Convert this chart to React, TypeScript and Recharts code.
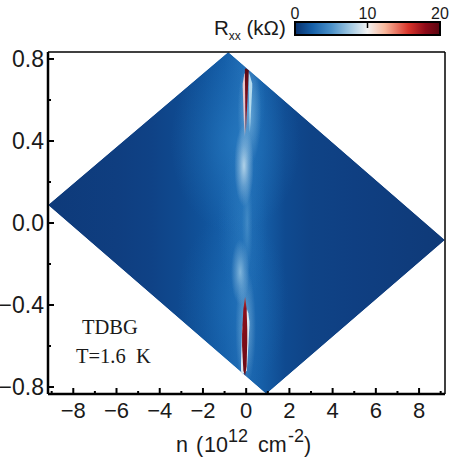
import React from "react";
import { ComposedChart, Area, Bar, XAxis, YAxis } from "recharts";

const xMajor = [-8, -6, -4, -2, 0, 2, 4, 6, 8];
const xMinor = [-9, -7, -5, -3, -1, 1, 3, 5, 7, 9];
const yMajor = [-0.8, -0.4, 0, 0.4, 0.8];
const yMinor = [-0.6, -0.2, 0.2, 0.6];
const nDomain: [number, number] = [-9.17, 9.2];
const dDomain: [number, number] = [-0.834, 0.834];

// map outline: displacement field D against carrier density n
const outlineN = [-9.17, -0.83, 0.93, 9.2];
const outlineLow = [0.088, -0.673, -0.834, -0.083];
const outlineHigh = [0.088, 0.834, 0.673, -0.083];

// background resistance colour versus n
const backgroundN = [-9.17, -6, -4.4, -3, -2, -1, -0.2, 0.7, 1.8, 3, 5, 9.2];
const backgroundColor = ["#0e3a7a", "#0f3e80", "#0f4286", "#0f4a90", "#10529a", "#155ea8", "#206cb4", "#165fa8", "#0f4a90", "#0f4386", "#0f3f82", "#0f3a78"];

// soft bright zones: n1, n2, D1, D2
const zoneN1 = [-3.5, -3.2, -1.3, -0.55, -0.4, -0.7, -0.5, -0.35, -0.2];
const zoneN2 = [2.5, 2.0, 1.0, 0.35, 0.7, 0.15, 0.45, 0.9, 0.3];
const zoneD1 = [-0.05, -0.834, -0.4, 0.08, 0.28, -0.4, -0.8, 0.38, -0.25];
const zoneD2 = [0.834, 0.05, 0.4, 0.48, 0.8, -0.08, -0.22, 0.8, 0.25];
const zoneColor = ["#2a80c6", "#2378bf", "#2f84c6", "#c8e2f0", "#9ccbe8", "#a8d2ea", "#a8d2ea", "#3f8fcc", "#6fb0dc"];
const zoneOpacity = [0.55, 0.35, 0.3, 0.85, 0.65, 0.7, 0.6, 0.35, 0.4];

// narrow features near charge neutrality
const pale1N = [-0.16, -0.08, -0.01];
const pale1Low = [0.66, 0.42, 0.7];
const pale1High = [0.68, 0.73, 0.72];
const pale2N = [0.1, 0.17, 0.28];
const pale2Low = [0.72, 0.44, 0.66];
const pale2High = [0.74, 0.72, 0.68];
const pale3N = [-0.24, -0.19, 0.03, 0.1, 0.15];
const pale3Low = [-0.72, -0.74, -0.72, -0.6, -0.5];
const pale3High = [-0.68, -0.52, -0.42, -0.44, -0.48];
const peakTopN = [-0.06, -0.02, 0.12];
const peakTopLow = [0.72, 0.43, 0.74];
const peakTopHigh = [0.75, 0.755, 0.745];
const peakBottomN = [-0.19, -0.13, -0.05, 0.02, 0.05];
const peakBottomLow = [-0.6, -0.72, -0.745, -0.7, -0.58];
const peakBottomHigh = [-0.54, -0.42, -0.36, -0.42, -0.52];

// colour scale
const scaleRow = [{ name: "Rxx", range: [0, 20] }];
const scaleTicks = [0, 10, 20];
const scaleStops = [0, 0.12, 0.25, 0.38, 0.5, 0.62, 0.78, 0.9, 1];
const scaleColors = ["#08306b", "#1660a8", "#4a90c8", "#a0c8e2", "#f2f2f2", "#f9b89c", "#d9362c", "#8e0a18", "#5a0510"];

const band = (ns: number[], low: number[], high: number[]) => ns.map((n, i) => ({ n, range: [low[i], high[i]] }));

const outlineData = band(outlineN, outlineLow, outlineHigh);
const maskUpper = band(outlineN, outlineHigh, outlineN.map(() => dDomain[1]));
const maskLower = band(outlineN, outlineN.map(() => dDomain[0]), outlineLow);

const font = "'Liberation Sans', Arial, sans-serif";
const serif = "'Liberation Serif', 'Times New Roman', serif";
const minus = (s: string) => s.replace("-", "\u2212");

const XTick = ({ x, y, payload }: any) => {
  const major = xMajor.includes(payload.value);
  return (
    <g>
      <line x1={x} x2={x} y1={y} y2={y - (major ? 6 : 3)} stroke="#000" strokeWidth={2} />
      {major && (
        <text x={x} y={y + 24} textAnchor="middle" fontFamily={font} fontSize={22} fill="#1a1a1a">
          {minus(String(payload.value))}
        </text>
      )}
    </g>
  );
};

const YTick = ({ x, y, payload }: any) => {
  const major = yMajor.includes(payload.value);
  return (
    <g>
      <line x1={x} x2={x + (major ? 6 : 3)} y1={y} y2={y} stroke="#000" strokeWidth={2} />
      {major && (
        <text x={x - 4} y={y + 8} textAnchor="end" fontFamily={font} fontSize={23} fill="#1a1a1a">
          {minus(payload.value.toFixed(1))}
        </text>
      )}
    </g>
  );
};

const ScaleTick = ({ x, y, payload }: any) => (
  <g>
    {payload.value === 10 && <line x1={x} x2={x} y1={y} y2={y + 6} stroke="#000" strokeWidth={1.5} />}
    <text x={x} y={y - 3} textAnchor="middle" fontFamily={font} fontSize={16} fill="#1a1a1a">
      {payload.value}
    </text>
  </g>
);

const paint = (data: any[], fill: string, key: string) => (
  <Area key={key} data={data} dataKey="range" type="linear" stroke="none" fill={fill} fillOpacity={1} dot={false} activeDot={false} isAnimationActive={false} legendType="none" />
);

export default function App() {
  return (
    <div style={{ position: "absolute", left: 0, top: 0, width: 460, height: 459, background: "#fff" }}>
      <ComposedChart width={460} height={459} margin={{ left: 47, right: 14, top: 51, bottom: 64 }} data={outlineData} style={{ position: "absolute", left: 0, top: 0 }}>
        <defs>
          <linearGradient id="bg" x1="0" x2="1" y1="0" y2="0">
            {backgroundN.map((n, i) => (
              <stop key={n} offset={(n - nDomain[0]) / (nDomain[1] - nDomain[0])} stopColor={backgroundColor[i]} />
            ))}
          </linearGradient>
          {zoneColor.map((c, i) => (
            <radialGradient id={`zone${i}`} key={i} cx="0.5" cy="0.5" r="0.5">
              <stop offset="0" stopColor={c} stopOpacity={zoneOpacity[i]} />
              <stop offset="0.5" stopColor={c} stopOpacity={zoneOpacity[i] * 0.45} />
              <stop offset="1" stopColor={c} stopOpacity={0} />
            </radialGradient>
          ))}
          <linearGradient id="peakTop" x1="0" x2="0" y1="0" y2="1">
            <stop offset="0" stopColor="#5a0a14" />
            <stop offset="0.6" stopColor="#8e0f1c" />
            <stop offset="0.88" stopColor="#c8483a" />
            <stop offset="1" stopColor="#f6c6a8" />
          </linearGradient>
          <linearGradient id="peakBottom" x1="0" x2="0" y1="0" y2="1">
            <stop offset="0" stopColor="#c04038" />
            <stop offset="0.15" stopColor="#8e0f1c" />
            <stop offset="1" stopColor="#6a0a14" />
          </linearGradient>
        </defs>
        <XAxis dataKey="n" type="number" domain={nDomain} ticks={[...xMinor, ...xMajor].sort((a, b) => a - b)} interval={0} height={1} tickSize={0} tickMargin={0} tickLine={false} tick={XTick} allowDataOverflow axisLine={{ stroke: "#000", strokeWidth: 2.5 }} />
        <XAxis xAxisId="top" dataKey="n" type="number" orientation="top" domain={nDomain} height={1} tick={false} tickLine={false} axisLine={{ stroke: "#000", strokeWidth: 1.5 }} />
        <YAxis type="number" domain={dDomain} ticks={[...yMinor, ...yMajor].sort((a, b) => a - b)} interval={0} width={1} tickSize={0} tickMargin={0} tickLine={false} tick={YTick} allowDataOverflow axisLine={{ stroke: "#000", strokeWidth: 2.5 }} />
        <YAxis yAxisId="right" type="number" orientation="right" domain={dDomain} width={1} tick={false} tickLine={false} axisLine={{ stroke: "#000", strokeWidth: 1.5 }} />
        {paint(outlineData, "url(#bg)", "base")}
        {zoneColor.map((_, i) =>
          paint(band([zoneN1[i], zoneN2[i]], [zoneD1[i], zoneD1[i]], [zoneD2[i], zoneD2[i]]), `url(#zone${i})`, `z${i}`)
        )}
        {paint(maskUpper, "#fff", "mu")}
        {paint(maskLower, "#fff", "ml")}
        {paint(band(pale1N, pale1Low, pale1High), "#e8c8cc", "p1")}
        {paint(band(pale2N, pale2Low, pale2High), "#b6dcee", "p2")}
        {paint(band(pale3N, pale3Low, pale3High), "#dfeaf2", "p3")}
        {paint(band(peakTopN, peakTopLow, peakTopHigh), "url(#peakTop)", "pt")}
        {paint(band(peakBottomN, peakBottomLow, peakBottomHigh), "url(#peakBottom)", "pb")}
      </ComposedChart>

      <ComposedChart width={460} height={45} layout="vertical" data={scaleRow} margin={{ left: 295, right: 20, top: 21, bottom: 10 }} barCategoryGap={0} style={{ position: "absolute", left: 0, top: 0 }}>
        <defs>
          <linearGradient id="scale" x1="0" x2="1" y1="0" y2="0">
            {scaleStops.map((s, i) => (
              <stop key={s} offset={s} stopColor={scaleColors[i]} />
            ))}
          </linearGradient>
        </defs>
        <XAxis type="number" orientation="top" domain={[0, 20]} ticks={scaleTicks} interval={0} height={1} tickSize={0} tickMargin={0} tickLine={false} axisLine={false} tick={ScaleTick} />
        <YAxis type="category" dataKey="name" hide />
        <Bar dataKey="range" fill="url(#scale)" stroke="#000" strokeWidth={2} isAnimationActive={false} />
      </ComposedChart>

      <svg width={460} height={459} style={{ position: "absolute", left: 0, top: 0, pointerEvents: "none" }}>
        <text x={214} y={35} fontFamily={font} fontSize={20.5} fill="#1a1a1a">
          R<tspan fontSize={12} dy={5}>xx</tspan>
          <tspan dy={-5}> (kΩ)</tspan>
        </text>
        <text y={452} fontFamily={font} fontSize={21.5} fill="#1a1a1a">
          <tspan x={176}>n</tspan>
          <tspan x={196}>(</tspan>
          <tspan x={204}>10</tspan>
          <tspan x={228} fontSize={18} dy={-10}>12</tspan>
          <tspan x={258} dy={10}>cm</tspan>
          <tspan x={288} fontSize={18} dy={-10}>-2</tspan>
          <tspan x={304} dy={10}>)</tspan>
        </text>
        <text x={82} y={334} fontFamily={serif} fontSize={20.5} fill="#1a1a1a">TDBG</text>
        <text x={76} y={363} fontFamily={serif} fontSize={20.5} fill="#1a1a1a" xmlSpace="preserve">T=1.6  K</text>
      </svg>
    </div>
  );
}
